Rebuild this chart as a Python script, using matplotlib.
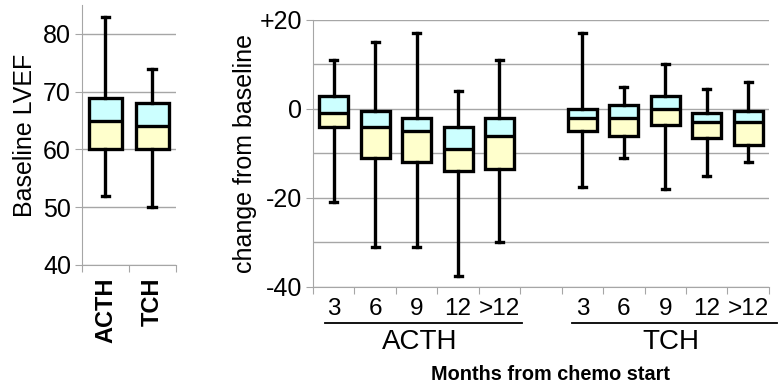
import matplotlib
matplotlib.use("Agg")
import matplotlib.pyplot as plt
from matplotlib.lines import Line2D
from matplotlib.transforms import blended_transform_factory

plt.rcParams['font.family'] = ['Liberation Sans', 'DejaVu Sans']

# baseline LVEF per arm
arms = ["ACTH", "TCH"]
base_lo = [52, 50]
base_q1 = [60, 60]
base_med = [65, 64]
base_q3 = [69, 68]
base_hi = [83, 74]

# change from baseline by months from chemo start
months = ["3", "6", "9", "12", ">12"]
acth_hi = [11, 15, 17, 4, 11]
acth_q3 = [3, -0.5, -2, -4, -2]
acth_med = [-1, -4, -5, -9, -6]
acth_q1 = [-4, -11, -12, -14, -13.5]
acth_lo = [-21, -31, -31, -37.5, -30]
tch_hi = [17, 5, 10, 4.5, 6]
tch_q3 = [0, 1, 3, -1, -0.5]
tch_med = [-2, -2, 0, -3, -3]
tch_q1 = [-5, -6, -3.5, -6.5, -8]
tch_lo = [-17.5, -11, -18, -15, -12]

CYAN = "#ccffff"
YELLOW = "#ffffcc"
GRID = "#a6a6a6"
LW = 2.4
BW = 0.7


def draw_boxes(ax, pos, lo, q1, med, q3, hi):
    # two-tone fill: yellow below median, cyan above
    ax.bar(pos, [m - a for m, a in zip(med, q1)], bottom=q1, width=BW,
           color=YELLOW, zorder=2, align='center')
    ax.bar(pos, [b - m for b, m in zip(q3, med)], bottom=med, width=BW,
           color=CYAN, zorder=2, align='center')
    stats = [dict(whislo=a, q1=b, med=c, q3=d, whishi=e, fliers=[])
             for a, b, c, d, e in zip(lo, q1, med, q3, hi)]
    ax.bxp(stats, positions=pos, widths=BW, capwidths=0.17, patch_artist=True,
           showfliers=False, manage_ticks=False,
           boxprops=dict(facecolor='none', edgecolor='black', linewidth=LW),
           medianprops=dict(color='black', linewidth=LW),
           whiskerprops=dict(color='black', linewidth=LW),
           capprops=dict(color='black', linewidth=LW),
           zorder=3)


def style(ax):
    for s in ['top', 'right']:
        ax.spines[s].set_visible(False)
    for s in ['left', 'bottom']:
        ax.spines[s].set_color(GRID)
    ax.yaxis.grid(True, color=GRID, linewidth=1)
    ax.set_axisbelow(True)
    ax.tick_params(axis='both', which='major', color=GRID, length=5)
    ax.tick_params(axis='x', which='major', labelbottom=False)
    ax.tick_params(axis='x', which='minor', length=0)


fig = plt.figure(figsize=(7.78, 3.92), dpi=100)

# left panel: baseline LVEF
ax1 = fig.add_axes([0.1054, 0.324, 0.1208, 0.663])
draw_boxes(ax1, [0.5, 1.5], base_lo, base_q1, base_med, base_q3, base_hi)
ax1.set_xlim(0, 2)
ax1.set_ylim(40, 85)
ax1.set_yticks([40, 50, 60, 70, 80])
ax1.set_xticks([0, 1, 2])
ax1.set_xticks([0.5, 1.5], minor=True)
ax1.set_xticklabels(arms, minor=True, rotation=90, fontweight='bold', fontsize=17)
style(ax1)
ax1.tick_params(axis='y', labelsize=18, pad=3)
ax1.tick_params(axis='x', which='minor', pad=9)
ax1.set_ylabel("Baseline LVEF", fontsize=18, labelpad=4)

# right panel: change from baseline
ax2 = fig.add_axes([0.4023, 0.268, 0.586, 0.681])
acth_pos = [i + 0.5 for i in range(len(months))]
tch_pos = [i + 6.5 for i in range(len(months))]
draw_boxes(ax2, acth_pos, acth_lo, acth_q1, acth_med, acth_q3, acth_hi)
draw_boxes(ax2, tch_pos, tch_lo, tch_q1, tch_med, tch_q3, tch_hi)
ax2.set_xlim(0, 11)
ax2.set_ylim(-40, 20)
ax2.set_yticks([-40, -20, 0, 20])
ax2.set_yticklabels(["-40", "-20", "0", "+20"])
ax2.set_yticks([-30, -10, 10], minor=True)
ax2.set_xticks(range(12))
ax2.set_xticks(acth_pos + tch_pos, minor=True)
ax2.set_xticklabels(months + months, minor=True, fontsize=17.5)
style(ax2)
ax2.yaxis.grid(True, which='minor', color=GRID, linewidth=1)
ax2.tick_params(axis='y', which='minor', length=0)
ax2.tick_params(axis='y', labelsize=18, pad=3)
ax2.tick_params(axis='x', which='minor', pad=8)
ax2.set_ylabel("change from baseline", fontsize=18, labelpad=2)

# group underlines and names
tr = blended_transform_factory(ax2.transData, ax2.transAxes)
for x0, x1, name in [(0.3, 5.05, "ACTH"), (6.25, 11.2, "TCH")]:
    ax2.add_line(Line2D([x0, x1], [-0.135, -0.135], transform=tr,
                        color='black', linewidth=1.3, clip_on=False))
    ax2.text((x0 + x1) / 2 - 0.1, -0.205, name, transform=tr, ha='center',
             va='center', fontsize=20)

fig.text(0.707, 0.045, "Months from chemo start", ha='center', va='center',
         fontsize=14.3, fontweight='bold')

fig.savefig("out.png", dpi=100)
